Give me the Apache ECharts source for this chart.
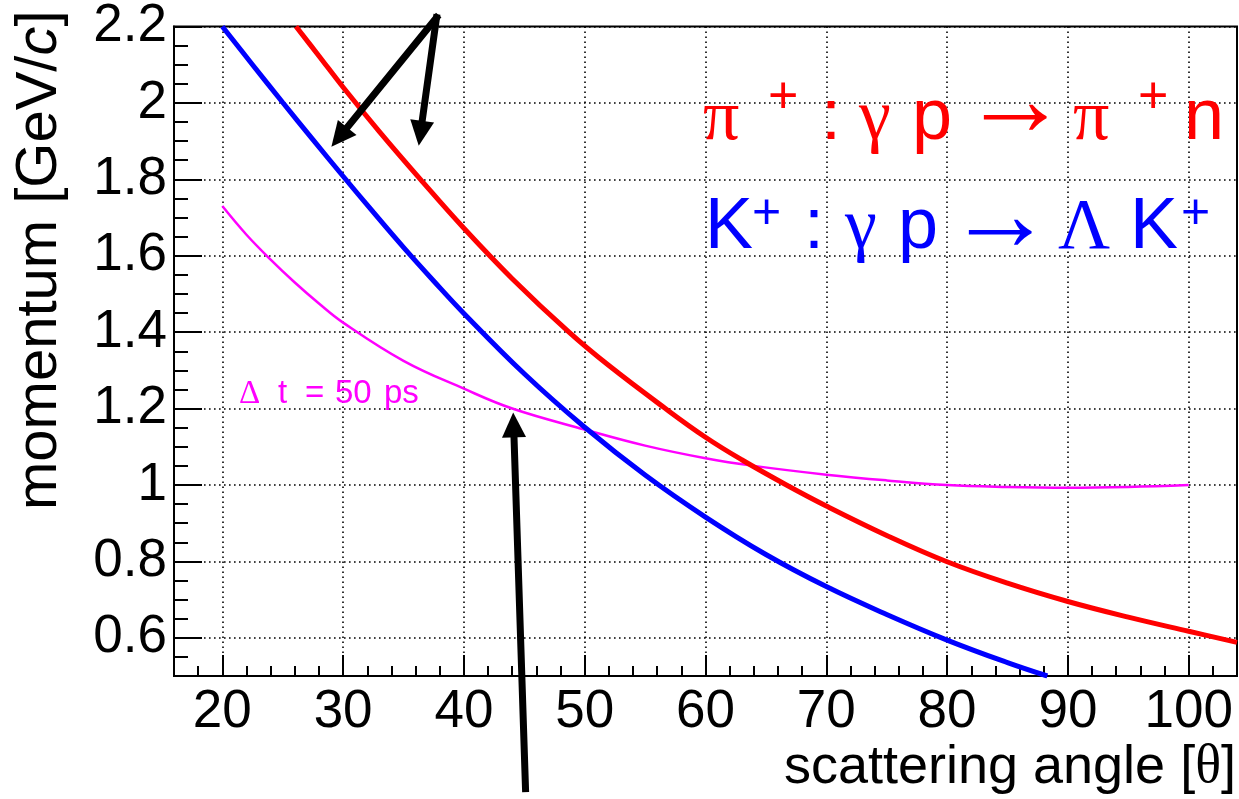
<!DOCTYPE html>
<html>
<head>
<meta charset="utf-8">
<script src="https://cdn.jsdelivr.net/npm/echarts@6/dist/echarts.min.js"></script>
<style>
html,body{margin:0;padding:0;background:#fff;}
#chart{width:1239px;height:799px;}
</style>
</head>
<body>
<div id="chart"></div>
<script>
// ---- data ----
const xTicks = [20, 30, 40, 50, 60, 70, 80, 90, 100];
const yTicks = [0.6, 0.8, 1, 1.2, 1.4, 1.6, 1.8, 2, 2.2];

const piAngle    = [26.1, 28, 30, 33, 36.4, 40, 44, 48.7, 52, 56.6, 60, 63, 66.7, 70, 75, 80, 85, 90, 95, 100, 104];
const piMomentum = [2.20, 2.123, 2.041, 1.925, 1.80, 1.672, 1.54, 1.40, 1.3125, 1.202, 1.125, 1.066, 1.0, 0.945, 0.868, 0.799, 0.743, 0.695, 0.654, 0.617, 0.588];

const kAngle    = [20, 22.5, 25, 27.5, 30, 32.5, 35, 37.5, 40, 45, 50, 55, 60, 65, 70, 75, 80, 85, 88.3];
const kMomentum = [2.20, 2.10, 2.001, 1.904, 1.808, 1.714, 1.622, 1.534, 1.449, 1.291, 1.151, 1.026, 0.916, 0.818, 0.734, 0.661, 0.594, 0.535, 0.50];

const dtAngle    = [20, 22, 24, 26, 28, 30, 35, 40, 44, 50, 55, 60, 64, 70, 75, 80, 85, 90, 95, 100];
const dtMomentum = [1.73, 1.655, 1.59, 1.53, 1.475, 1.425, 1.325, 1.252, 1.2, 1.145, 1.103, 1.07, 1.05, 1.027, 1.012, 1.0, 0.995, 0.993, 0.995, 1.0];

// arrow annotations in data coordinates [from, to]
const arrows = [
  [[37.73, 2.223], [29.03, 1.885]],
  [[37.73, 2.223], [36.26, 1.888]],
  [[45.1, 0.205], [44.08, 1.19]]
];

const xTitle = 'scattering angle [';
const yTitle = 'momentum [GeV/';

// ---- chart ----
const SANS = 'Liberation Sans, Arial, Helvetica, sans-serif';
const SERIF = 'Liberation Serif, Times New Roman, serif';
const chart = echarts.init(document.getElementById('chart'), null, {renderer: 'canvas'});

function zip(a, b) { return a.map((v, i) => [v, b[i]]); }

const gridDot = {type: [1.6, 3.4], color: '#000', width: 1.6};

chart.setOption({
  animation: false,
  grid: {left: 174, right: 2, top: 24, bottom: 123, containLabel: false, show: true,
         borderColor: '#000', borderWidth: 2, backgroundColor: 'transparent'},
  xAxis: [
    {type: 'value', min: 16, max: 104, position: 'bottom',
     axisLine: {show: true, onZero: false, lineStyle: {color: '#000', width: 2}},
     axisTick: {show: true, inside: true, length: 21, customValues: xTicks, lineStyle: {color: '#000', width: 2}},
     axisLabel: {show: true, customValues: xTicks, margin: 10, color: '#000', fontSize: 53, fontFamily: SANS},
     splitLine: {show: true, lineStyle: gridDot}},
    {type: 'value', min: 16, max: 104, interval: 2, position: 'bottom',
     axisLine: {show: false}, axisTick: {show: true, inside: true, length: 10, lineStyle: {color: '#000', width: 2}},
     axisLabel: {show: false}, splitLine: {show: false}}
  ],
  yAxis: [
    {type: 'value', min: 0.5, max: 2.2, position: 'left',
     axisLine: {show: true, onZero: false, lineStyle: {color: '#000', width: 2}},
     axisTick: {show: true, inside: true, length: 28, customValues: yTicks, lineStyle: {color: '#000', width: 2}},
     axisLabel: {show: true, customValues: yTicks, margin: 7, color: '#000', fontSize: 53, fontFamily: SANS,
                 formatter: v => String(+(+v).toFixed(1))},
     splitLine: {show: true, lineStyle: gridDot}},
    {type: 'value', min: 0.5, max: 2.2, interval: 0.05, position: 'left',
     axisLine: {show: false}, axisTick: {show: true, inside: true, length: 14, lineStyle: {color: '#000', width: 2}},
     axisLabel: {show: false}, splitLine: {show: false}}
  ],
  series: [
    {type: 'line', name: 'dt', data: zip(dtAngle, dtMomentum), showSymbol: false, smooth: 0.4,
     lineStyle: {color: '#ff00ff', width: 2.5}, z: 3},
    {type: 'line', name: 'pi', data: zip(piAngle, piMomentum), showSymbol: false, smooth: 0.4,
     lineStyle: {color: '#ff0000', width: 5}, z: 4},
    {type: 'line', name: 'K', data: zip(kAngle, kMomentum), showSymbol: false, smooth: 0.4,
     lineStyle: {color: '#0000ff', width: 5}, z: 4}
  ]
});

// ---- annotations ----
function mid(baseline, size, k) { return baseline - (k || 0.3465) * size; }
function tok(text, x, baseline, size, color, family, k) {
  return {type: 'text', x: x, y: mid(baseline, size, k), z: 100, silent: true,
          style: {text: text, fill: color, font: size + 'px ' + family, align: 'left', verticalAlign: 'middle'}};
}
function arr(x, y, size, color) {
  return {type: 'text', x: x, y: y, z: 100, silent: true,
          style: {text: '\u2192', fill: color, font: size + 'px ' + SANS, align: 'left', verticalAlign: 'middle'}};
}
const RED = '#ff0000', BLUE = '#0000ff', MAG = '#ff00ff';
const texts = [
  tok('\u03c0', 703, 144, 72, RED, SERIF, 0.3375),
  tok('+', 768, 117, 52, RED, SANS),
  tok(':', 821, 144, 72, RED, SANS),
  tok('\u03b3', 859, 144, 72, RED, SERIF, 0.3375),
  tok('p', 912, 144, 72, RED, SANS),
  arr(962, 106, 106, RED),
  tok('\u03c0', 1073, 144, 72, RED, SERIF, 0.3375),
  tok('+', 1138, 117, 52, RED, SANS),
  tok('n', 1184, 144, 72, RED, SANS),

  tok('K', 705, 253, 72, BLUE, SANS),
  tok('+', 752, 232, 50, BLUE, SANS),
  tok(':', 804, 253, 72, BLUE, SANS),
  tok('\u03b3', 845, 253, 72, BLUE, SERIF, 0.3375),
  tok('p', 898, 253, 72, BLUE, SANS),
  arr(947, 221, 106, BLUE),
  tok('\u039b', 1058, 253, 72, BLUE, SERIF, 0.3375),
  tok('K', 1130, 253, 72, BLUE, SANS),
  tok('+', 1181, 232, 50, BLUE, SANS),

  tok('\u0394', 239, 405, 33, MAG, SERIF, 0.3375),
  tok('t', 278, 405, 33, MAG, SANS),
  tok('=', 305, 405, 33, MAG, SANS),
  tok('50', 335, 405, 33, MAG, SANS),
  tok('ps', 384, 405, 33, MAG, SANS),

  {type: 'text', x: 1236, y: mid(787, 54), z: 100, silent: true,
   style: {text: '{a|' + xTitle + '}{g|\u03b8}{a|]}', align: 'right', verticalAlign: 'middle',
           rich: {a: {font: '54px ' + SANS, fill: '#000'}, g: {font: '54px ' + SERIF, fill: '#000'}}}},
  {type: 'text', x: mid(60, 58), y: 510, rotation: Math.PI / 2, z: 100, silent: true,
   style: {text: '{a|' + yTitle + '}{i|c}{a|]}', align: 'left', verticalAlign: 'middle',
           rich: {a: {font: '58px ' + SANS, fill: '#000'}, i: {font: 'italic 58px ' + SANS, fill: '#000'}}}}
];

function arrowShapes(p0, p1, w, headLen, headW) {
  const dx = p1[0] - p0[0], dy = p1[1] - p0[1];
  const L = Math.hypot(dx, dy), ux = dx / L, uy = dy / L, nx = -uy, ny = ux;
  const bx = p1[0] - ux * headLen, by = p1[1] - uy * headLen;
  return [
    {type: 'line', z: 90, silent: true, shape: {x1: p0[0], y1: p0[1], x2: bx + ux * 3, y2: by + uy * 3},
     style: {stroke: '#000', lineWidth: w, lineCap: 'square'}},
    {type: 'polygon', z: 90, silent: true,
     shape: {points: [[p1[0], p1[1]], [bx + nx * headW / 2, by + ny * headW / 2], [bx - nx * headW / 2, by - ny * headW / 2]]},
     style: {fill: '#000'}}
  ];
}
let arrowEls = [];
arrows.forEach(a => {
  const p0 = chart.convertToPixel({xAxisIndex: 0, yAxisIndex: 0}, a[0]);
  const p1 = chart.convertToPixel({xAxisIndex: 0, yAxisIndex: 0}, a[1]);
  arrowEls = arrowEls.concat(arrowShapes(p0, p1, 7, 25, 24));
});
chart.setOption({graphic: texts.concat(arrowEls)});
</script>
</body>
</html>
